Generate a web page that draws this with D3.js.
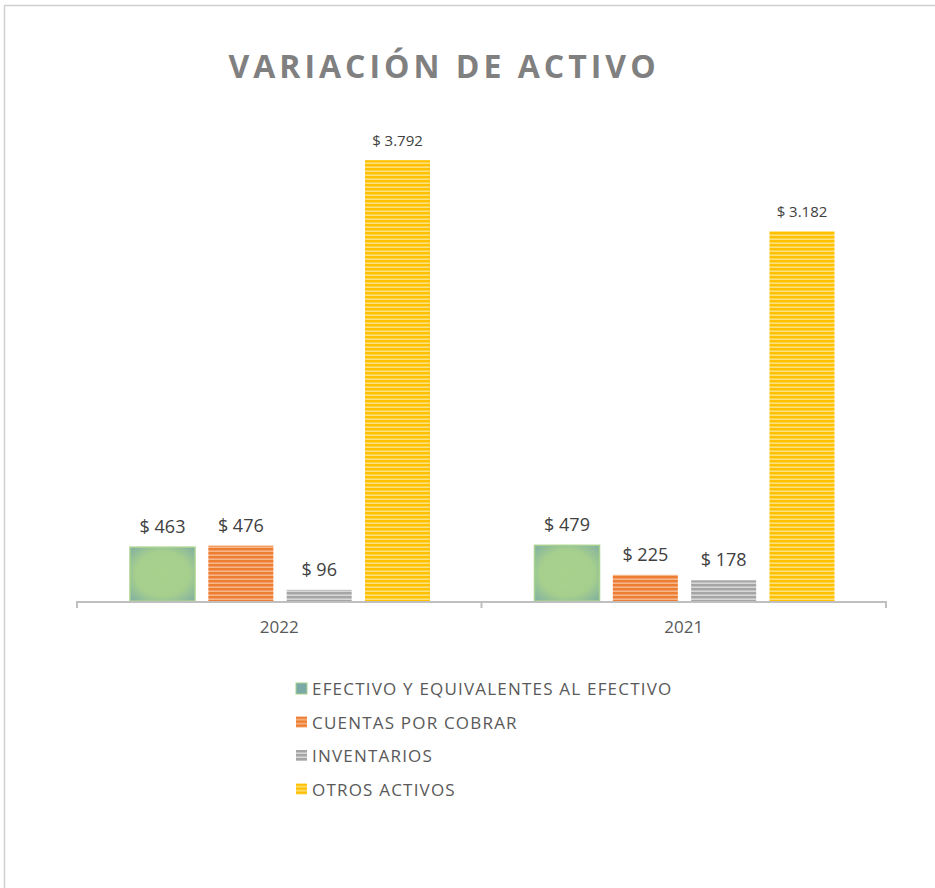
<!DOCTYPE html>
<html>
<head>
<meta charset="utf-8">
<script src="https://cdn.jsdelivr.net/npm/d3@7"></script>
<style>
  body { margin: 0; background: #fff; }
  text { font-family: "Open Sans", "DejaVu Sans", sans-serif; }
</style>
</head>
<body>
<script>
// data
var years = ["2022", "2021"];
var seriesNames = ["EFECTIVO Y EQUIVALENTES AL EFECTIVO", "CUENTAS POR COBRAR", "INVENTARIOS", "OTROS ACTIVOS"];
var values2022 = [463, 476, 96, 3792];
var values2021 = [479, 225, 178, 3182];
var valueLabels2022 = ["$ 463", "$ 476", "$ 96", "$ 3.792"];
var valueLabels2021 = ["$ 479", "$ 225", "$ 178", "$ 3.182"];

var width = 935
var height = 888
var baseline = 601
var plotTop = 136
var textColor = "#595959"

var svg = d3.select("body")
			.append("svg")
			.attr("width", width)
			.attr("height", height);

// fills: gradient for green, stripes for the rest
var defs = svg.append("defs");

var grad = defs.append("radialGradient")
			.attr("id", "fillGreen")
			.attr("cx", "50%").attr("cy", "50%").attr("r", "75%");
grad.append("stop").attr("offset", "0%").attr("stop-color", "#a9d18e");
grad.append("stop").attr("offset", "55%").attr("stop-color", "#a6cf8d");
grad.append("stop").attr("offset", "100%").attr("stop-color", "#7aa9a6");

function stripes(id, dark, light) {
	var p = defs.append("pattern")
			.attr("id", id)
			.attr("patternUnits", "userSpaceOnUse")
			.attr("width", 8)
			.attr("height", 4);
	p.append("rect").attr("width", 8).attr("height", 4).attr("fill", light);
	p.append("rect").attr("width", 8).attr("height", 2.4).attr("fill", dark);
}
stripes("fillOrange", "#ed7d31", "#f7b58a");
stripes("fillGray", "#a5a5a5", "#d6d6d6");
stripes("fillYellow", "#ffc000", "#ffe07a");

var fills = ["url(#fillGreen)", "url(#fillOrange)", "url(#fillGray)", "url(#fillYellow)"];
var swatchFills = ["#7aa9a6", "url(#fillOrange)", "url(#fillGray)", "url(#fillYellow)"];
var strokes = ["#a9d18e", "none", "none", "none"];

// chart frame
svg.append("rect")
	.attr("x", 4.5)
	.attr("y", 5.5)
	.attr("width", 960)
	.attr("height", 920)
	.attr("fill", "none")
	.attr("stroke", "#d0d0d0")
	.attr("stroke-width", 1.5);

// title
svg.append("text")
	.attr("x", 444)
	.attr("y", 78)
	.attr("text-anchor", "middle")
	.style("font-size", "32px")
	.style("font-weight", "bold")
	.style("letter-spacing", "4px")
	.style("fill", "#808080")
	.text("VARIACIÓN DE ACTIVO");

// scales
var x0 = d3.scaleBand()
			.domain(years)
			.range([77, 886])
			.padding(0);

var x1 = d3.scaleBand()
			.domain(d3.range(seriesNames.length))
			.range([53, 353])
			.paddingInner(0.17)
			.paddingOuter(0);

var y = d3.scaleLinear()
			.domain([0, 4000])
			.range([baseline, plotTop]);

var rows = [];
years.forEach(function(yr, gi) {
	var vals = gi == 0 ? values2022 : values2021;
	var labs = gi == 0 ? valueLabels2022 : valueLabels2021;
	vals.forEach(function(v, si) {
		rows.push({year: yr, series: si, value: v, label: labs[si]});
	});
});

// bars
svg.selectAll("rect.bar")
	.data(rows)
	.enter()
	.append("rect")
	.attr("class", "bar")
	.attr("x", function(d) { return x0(d.year) + x1(d.series) })
	.attr("y", function(d) { return y(d.value) })
	.attr("width", x1.bandwidth())
	.attr("height", function(d) { return baseline - y(d.value) })
	.attr("fill", function(d) { return fills[d.series] })
	.attr("stroke", function(d) { return strokes[d.series] })
	.attr("stroke-width", 1.5);

// value labels
svg.selectAll("text.val")
	.data(rows)
	.enter()
	.append("text")
	.attr("class", "val")
	.attr("x", function(d) { return x0(d.year) + x1(d.series) + x1.bandwidth() / 2 })
	.attr("y", function(d) { return y(d.value) - 14 })
	.attr("text-anchor", "middle")
	.style("font-size", function(d) { return d.series == 3 ? "15px" : "18px" })
	.style("fill", "#404040")
	.text(function(d) { return d.label });

// x axis
var xAxis = d3.axisBottom(x0).tickSize(0).tickPadding(20);
var axisG = svg.append("g")
			.attr("transform", "translate(0," + baseline + ")")
			.call(xAxis);
axisG.select(".domain").remove();
axisG.selectAll("text")
	.style("font-size", "17px")
	.style("fill", textColor)
	.style("font-family", "'Open Sans', sans-serif");

svg.append("line")
	.attr("x1", 77).attr("x2", 886)
	.attr("y1", baseline + 1).attr("y2", baseline + 1)
	.attr("stroke", "#bfbfbf")
	.attr("stroke-width", 2);

var edges = [77, x0("2021"), 886];
svg.selectAll("line.tick")
	.data(edges)
	.enter()
	.append("line")
	.attr("class", "tick")
	.attr("x1", function(d) { return d }).attr("x2", function(d) { return d })
	.attr("y1", baseline).attr("y2", baseline + 7)
	.attr("stroke", "#bfbfbf")
	.attr("stroke-width", 2);

// legend
var legend = svg.selectAll("g.legend")
			.data(seriesNames)
			.enter()
			.append("g")
			.attr("class", "legend")
			.attr("transform", function(d, i) { return "translate(296," + (683 + i * 33.5) + ")" });

legend.append("rect")
	.attr("width", 11)
	.attr("height", 11)
	.attr("fill", function(d, i) { return swatchFills[i] })
	.attr("stroke", function(d, i) { return strokes[i] })
	.attr("stroke-width", 1);

legend.append("text")
	.attr("x", 16)
	.attr("y", 12)
	.style("font-size", "17px")
	.style("letter-spacing", "1.2px")
	.style("fill", textColor)
	.text(function(d) { return d });
</script>
</body>
</html>
